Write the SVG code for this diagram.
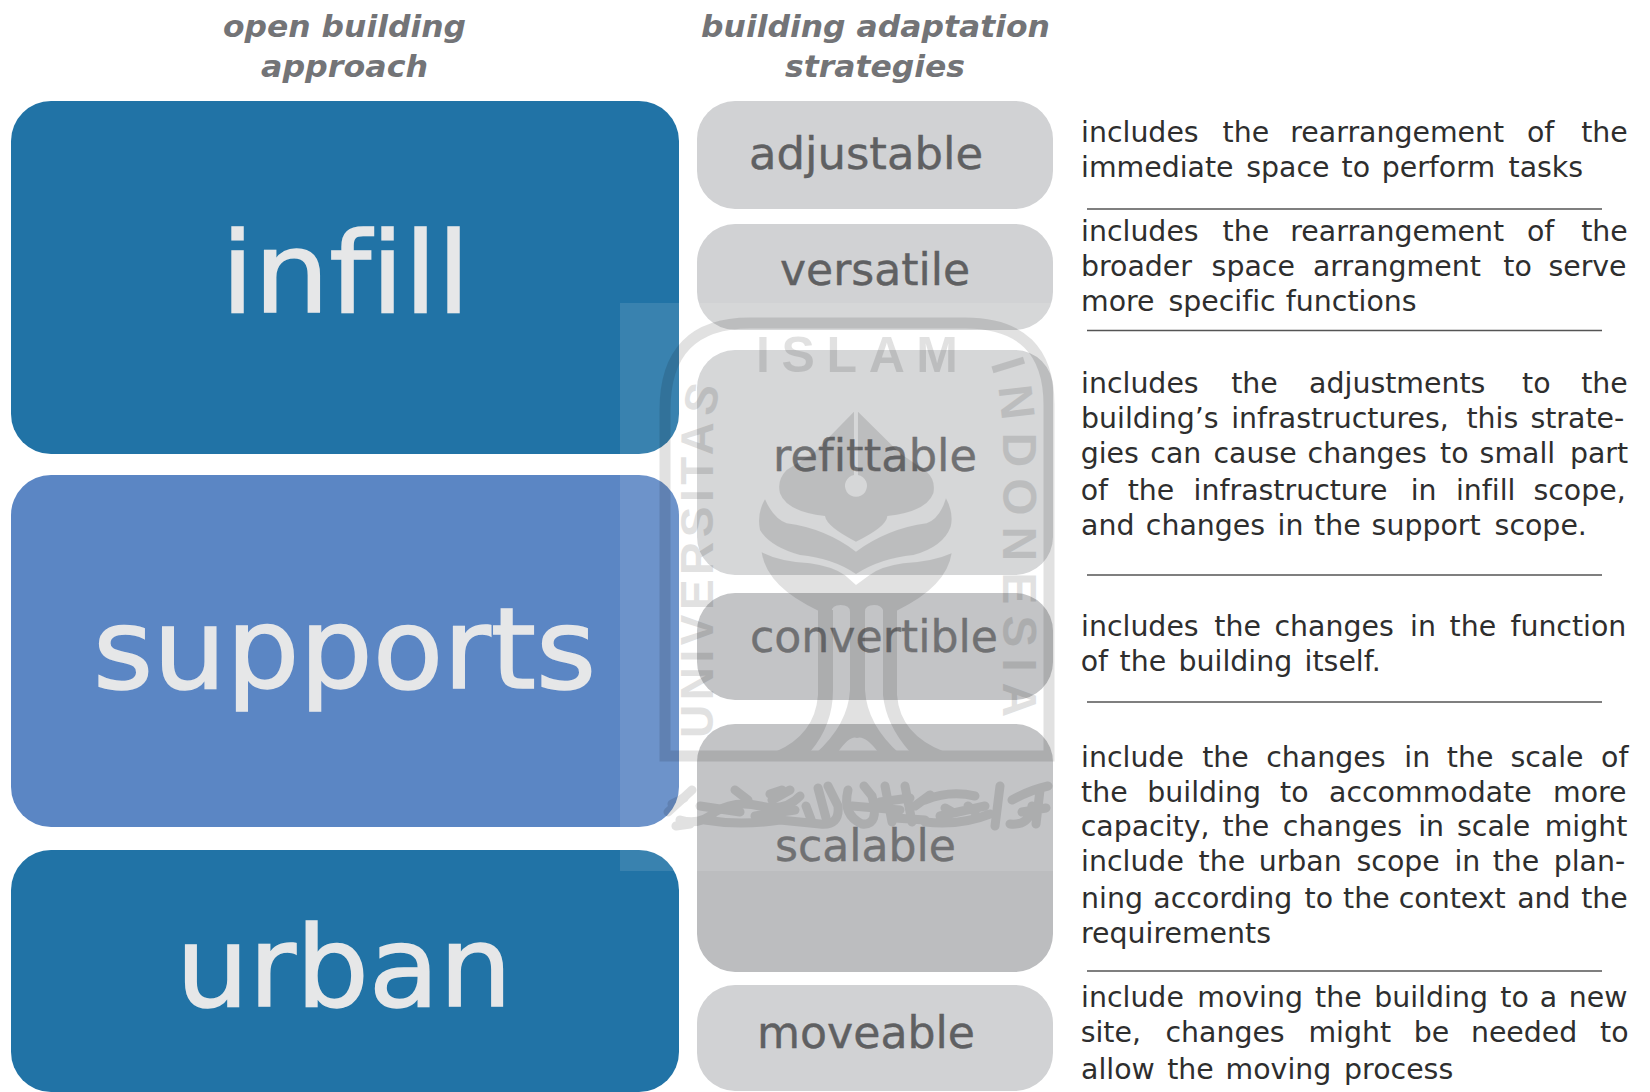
<svg xmlns="http://www.w3.org/2000/svg" width="1650" height="1092" viewBox="0 0 1650 1092">
<style>
text{font-family:"DejaVu Sans","Verdana",sans-serif;font-variant-ligatures:none}
.title{font-size:31px;font-weight:bold;font-style:italic;fill:#737477}
.big{font-size:112px;fill:#e6e7e8;stroke:#e6e7e8;stroke-width:1.6}
.mid{font-size:44px;fill:#5f6062;stroke:#5f6062;stroke-width:.4}
.body{font-size:28.4px;fill:#2e2e2e}
.dark{fill:#2173a6}.light{fill:#5b86c4}.g1{fill:#d1d2d4}.g2{fill:#bcbdbf}
.rule{stroke:#555;stroke-width:1.6;fill:none}
.wm{font-family:"Liberation Sans",sans-serif;font-weight:bold;fill:#000}
</style>
<rect width="1650" height="1092" fill="#fff"/>
<g id="titles">
<text class="title" x="223" y="37" textLength="243" lengthAdjust="spacingAndGlyphs">open building</text>
<text class="title" x="261" y="77" textLength="167" lengthAdjust="spacingAndGlyphs">approach</text>
<text class="title" x="701" y="37" textLength="349" lengthAdjust="spacingAndGlyphs">building adaptation</text>
<text class="title" x="785" y="77" textLength="180" lengthAdjust="spacingAndGlyphs">strategies</text>
</g>
<g id="infill"><rect class="dark" x="11" y="101" width="668" height="353" rx="40"/><text class="big" x="221" y="312" textLength="249" lengthAdjust="spacingAndGlyphs">infill</text></g>
<g id="supports"><rect class="light" x="11" y="475" width="668" height="352" rx="40"/><text class="big" x="93" y="688" textLength="503" lengthAdjust="spacingAndGlyphs">supports</text></g>
<g id="urban"><rect class="dark" x="11" y="850" width="668" height="242" rx="40"/><text class="big" x="176" y="1006" textLength="336" lengthAdjust="spacingAndGlyphs">urban</text></g>
<g id="adjustable"><rect class="g1" x="697" y="101" width="356" height="108" rx="38"/><text class="mid" x="749" y="169" textLength="234" lengthAdjust="spacingAndGlyphs">adjustable</text></g>
<g id="versatile"><rect class="g1" x="697" y="224" width="356" height="106" rx="38"/><text class="mid" x="780" y="285" textLength="190" lengthAdjust="spacingAndGlyphs">versatile</text></g>
<g id="refittable"><rect class="g1" x="697" y="350" width="356" height="225" rx="38"/><text class="mid" x="773" y="471" textLength="204" lengthAdjust="spacingAndGlyphs">refittable</text></g>
<g id="convertible"><rect class="g2" x="697" y="593" width="356" height="107" rx="38"/><text class="mid" x="750" y="652" textLength="248" lengthAdjust="spacingAndGlyphs">convertible</text></g>
<g id="scalable"><rect class="g2" x="697" y="724" width="356" height="248" rx="38"/><text class="mid" x="775" y="861" textLength="181" lengthAdjust="spacingAndGlyphs">scalable</text></g>
<g id="moveable"><rect class="g1" x="697" y="985" width="356" height="106" rx="38"/><text class="mid" x="757" y="1048" textLength="218" lengthAdjust="spacingAndGlyphs">moveable</text></g>
<g id="dividers">
<line class="rule" x1="1087" x2="1602" y1="209" y2="209"/>
<line class="rule" x1="1087" x2="1602" y1="330.5" y2="330.5"/>
<line class="rule" x1="1087" x2="1602" y1="575" y2="575"/>
<line class="rule" x1="1087" x2="1602" y1="702" y2="702"/>
<line class="rule" x1="1087" x2="1602" y1="971" y2="971"/>
</g>
<g id="desc-adjustable">
<text class="body" y="142"><tspan x="1081">includes</tspan> <tspan x="1222.6">the</tspan> <tspan x="1290.3">rearrangement</tspan> <tspan x="1527">of</tspan> <tspan x="1581.2">the</tspan></text>
<text class="body" y="177"><tspan x="1081">immediate</tspan> <tspan x="1246.3">space</tspan> <tspan x="1341.5">to</tspan> <tspan x="1381.7">perform</tspan> <tspan x="1508.5">tasks</tspan></text>
</g>
<g id="desc-versatile">
<text class="body" y="241"><tspan x="1081">includes</tspan> <tspan x="1222.6">the</tspan> <tspan x="1290.3">rearrangement</tspan> <tspan x="1527">of</tspan> <tspan x="1581.2">the</tspan></text>
<text class="body" y="276"><tspan x="1081">broader</tspan> <tspan x="1211.6">space</tspan> <tspan x="1312.9">arrangment</tspan> <tspan x="1503.3">to</tspan> <tspan x="1548.4">serve</tspan></text>
<text class="body" y="311"><tspan x="1081">more</tspan> <tspan x="1168.4">specific</tspan> <tspan x="1285.8">functions</tspan></text>
</g>
<g id="desc-refittable">
<text class="body" y="393"><tspan x="1081">includes</tspan> <tspan x="1231.2">the</tspan> <tspan x="1309.1">adjustments</tspan> <tspan x="1522.1">to</tspan> <tspan x="1581.2">the</tspan></text>
<text class="body" y="428"><tspan x="1081">building’s</tspan> <tspan x="1231.2">infrastructures,</tspan> <tspan x="1466.4">this</tspan> <tspan x="1530.4">strate-</tspan></text>
<text class="body" y="463"><tspan x="1080.7">gies</tspan> <tspan x="1150.3">can</tspan> <tspan x="1213.5">cause</tspan> <tspan x="1307.6">changes</tspan> <tspan x="1440.1">to</tspan> <tspan x="1479.6">small</tspan> <tspan x="1569.9">part</tspan></text>
<text class="body" y="500"><tspan x="1080.7">of</tspan> <tspan x="1127.7">the</tspan> <tspan x="1193.6">infrastructure</tspan> <tspan x="1410.7">in</tspan> <tspan x="1455.9">infill</tspan> <tspan x="1533.4">scope,</tspan></text>
<text class="body" y="535"><tspan x="1081">and</tspan> <tspan x="1145.8">changes</tspan> <tspan x="1277.5">in</tspan> <tspan x="1314">the</tspan> <tspan x="1371.6">support</tspan> <tspan x="1494.6">scope.</tspan></text>
</g>
<g id="desc-convertible">
<text class="body" y="636"><tspan x="1081">includes</tspan> <tspan x="1214.3">the</tspan> <tspan x="1274.5">changes</tspan> <tspan x="1410">in</tspan> <tspan x="1449.5">the</tspan> <tspan x="1510.4">function</tspan></text>
<text class="body" y="671"><tspan x="1080.7">of</tspan> <tspan x="1119.5">the</tspan> <tspan x="1178.5">building</tspan> <tspan x="1304.6">itself.</tspan></text>
</g>
<g id="desc-scalable">
<text class="body" y="767"><tspan x="1081">include</tspan> <tspan x="1202.2">the</tspan> <tspan x="1266.2">changes</tspan> <tspan x="1404.3">in</tspan> <tspan x="1446.8">the</tspan> <tspan x="1510.4">scale</tspan> <tspan x="1601.1">of</tspan></text>
<text class="body" y="802"><tspan x="1081">the</tspan> <tspan x="1147.3">building</tspan> <tspan x="1280.1">to</tspan> <tspan x="1329">accommodate</tspan> <tspan x="1553">more</tspan></text>
<text class="body" y="836"><tspan x="1080.7">capacity,</tspan> <tspan x="1222.6">the</tspan> <tspan x="1282.8">changes</tspan> <tspan x="1418.2">in</tspan> <tspan x="1457">scale</tspan> <tspan x="1544.7">might</tspan></text>
<text class="body" y="871"><tspan x="1081">include</tspan> <tspan x="1198.5">the</tspan> <tspan x="1258.7">urban</tspan> <tspan x="1356.5">scope</tspan> <tspan x="1454.4">in</tspan> <tspan x="1492.7">the</tspan> <tspan x="1553.7">plan-</tspan></text>
<text class="body" y="908"><tspan x="1081">ning</tspan> <tspan x="1153.3">according</tspan> <tspan x="1304.6">to</tspan> <tspan x="1343">the</tspan> <tspan x="1398.7">context</tspan> <tspan x="1517.2">and</tspan> <tspan x="1581.2">the</tspan></text>
<text class="body" y="943"><tspan x="1081">requirements</tspan></text>
</g>
<g id="desc-moveable">
<text class="body" y="1007"><tspan x="1081">include</tspan> <tspan x="1197.3">moving</tspan> <tspan x="1315.1">the</tspan> <tspan x="1374.2">building</tspan> <tspan x="1500.3">to</tspan> <tspan x="1539.8">a</tspan> <tspan x="1568.8">new</tspan></text>
<text class="body" y="1042"><tspan x="1080.7">site,</tspan> <tspan x="1165.4">changes</tspan> <tspan x="1308.4">might</tspan> <tspan x="1413.7">be</tspan> <tspan x="1470.9">needed</tspan> <tspan x="1600">to</tspan></text>
<text class="body" y="1079"><tspan x="1081">allow</tspan> <tspan x="1167.2">the</tspan> <tspan x="1225.6">moving</tspan> <tspan x="1344.1">process</tspan></text>
</g>
<g id="watermark-panel"><rect x="620" y="303" width="440" height="568" fill="#fff" opacity=".11"/></g>
<g id="watermark" opacity=".115">
<defs>
<path id="wmR" d="M990 364 Q1003 395 1003 450 L1003 745"/>
<path id="wmL" d="M713 738 L713 440 Q713 405 724 380"/>
</defs>
<path d="M665 756 L665 410 Q665 323 750 323 L965 323 Q1049 323 1049 405 L1049 756 Z" fill="none" stroke="#000" stroke-width="11"/>
<text class="wm" font-size="50" x="756" y="372" textLength="202" lengthAdjust="spacing">ISLAM</text>
<text class="wm" font-size="48" letter-spacing="11"><textPath href="#wmR">INDONESIA</textPath></text>
<text class="wm" font-size="46" letter-spacing="4.5"><textPath href="#wmL">UNIVERSITAS</textPath></text>
<g transform="translate(730 390) scale(.3333)">
<path fill-rule="evenodd" d="M372 65 L250 190 L170 240 Q140 270 150 310 Q170 365 285 378 Q290 410 378 455 Q470 410 472 378 Q590 365 610 310 Q618 270 590 245 L510 190 L384 65 L384 255 A33 33 0 1 1 372 255 Z"/>
<path d="M105 328 Q130 385 170 400 Q285 415 378 485 Q475 415 590 400 Q630 385 648 325 Q672 370 662 410 Q640 470 550 495 Q450 505 378 552 Q310 505 210 495 Q120 470 90 420 Q80 370 105 328 Z"/>
<path d="M95 487 Q150 515 240 520 Q310 530 345 556 L378 585 L418 556 Q450 530 520 520 Q610 515 665 490 Q650 590 500 662 L460 662 Q455 645 432 645 Q405 645 405 665 L360 665 Q360 645 332 645 Q305 645 305 665 L265 662 Q110 590 95 487 Z"/>
</g>
<path d="M818 610 L818 695 Q815 735 775 752 L810 752 Q833 725 833 690 L833 610 Z"/>
<path d="M850 610 L850 690 Q848 725 815 754 L838 752 Q850 735 857 738 Q865 735 878 752 L900 754 Q867 725 865 690 L865 610 Z"/>
<path d="M883 610 L883 695 Q886 725 910 752 L945 752 Q900 735 897 695 L897 610 Z"/>
<g fill="none" stroke="#000" stroke-width="9" stroke-linecap="round">
<path d="M668 812 L692 790 M680 820 Q700 826 715 812 Q735 800 760 806 Q785 812 800 796"/>
<path d="M705 820 Q740 826 780 820 L820 824 Q840 826 838 806 L828 786"/>
<path d="M700 806 L740 812 M755 816 L795 810 M772 800 L790 790 M806 806 L812 822"/>
<path d="M818 788 L826 818 M848 790 Q842 815 862 824 Q880 826 872 796 L864 786 M885 786 L892 822 M905 786 L912 822"/>
<path d="M852 806 L900 810 M880 802 L910 798 M895 818 L925 820 M915 806 L930 795"/>
<path d="M925 800 Q950 790 975 796 M925 822 Q960 826 990 814 M945 808 L952 812 M968 806 L975 812 M940 816 L985 806"/>
<path d="M1000 786 L995 826 M1012 800 Q1030 790 1048 786 M1010 824 Q1030 826 1032 806 M1040 790 L1036 824 M1022 812 L1046 808"/>
<path d="M672 804 L684 798 M676 826 L690 824 M735 790 L748 800 M770 794 L782 790"/>
</g>
</g>
</svg>
